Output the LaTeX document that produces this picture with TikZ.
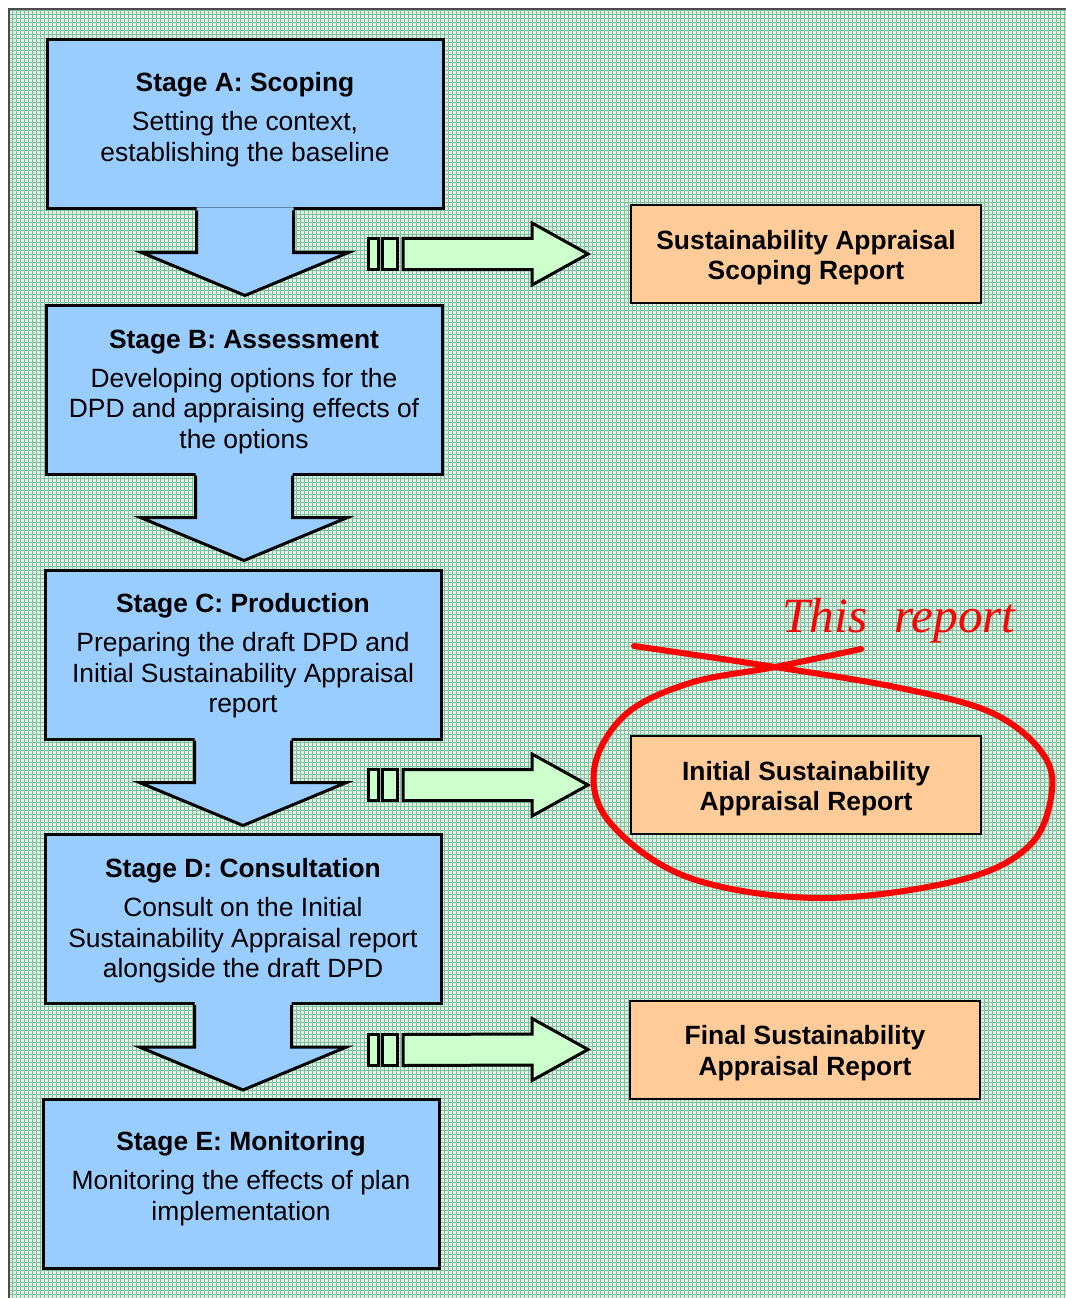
\documentclass[tikz,border=0pt]{standalone}
\usepackage{fontspec}
\setmainfont{Liberation Sans}
\newfontfamily\handfont{Liberation Serif}
\usepackage{xcolor}
\usepackage{tikz}
\usetikzlibrary{calc, patterns}
\definecolor{stageblue}{HTML}{99CCFF}
\definecolor{reportorange}{HTML}{FFCC99}
\definecolor{arrowgreen}{HTML}{CCFFCC}
\definecolor{mintbase}{RGB}{222,240,229}
\definecolor{mintline}{RGB}{128,192,156}
\definecolor{markred}{HTML}{FF0000}

\begin{document}
\begin{tikzpicture}[x=0.75pt, y=-0.75pt,
    stagebox/.style={rectangle, draw=black, line width=2.25pt, fill=stageblue, minimum width=297pt, minimum height=126.75pt, inner sep=0pt},
    downfill/.style={fill=stageblue},
    downline/.style={draw=black, line width=2.25pt, line join=miter},
    report/.style={rectangle, draw=black, line width=1.5pt, fill=reportorange, minimum width=262.5pt, minimum height=73.5pt},
    reporttext/.style={inner sep=0pt, align=center, font=\fontsize{19.8}{22.9}\selectfont\bfseries},
    barbox/.style={draw=black, line width=2.25pt, fill=arrowgreen},
    blockarrow/.style={draw=black, line width=2.25pt, fill=arrowgreen, line join=miter},
    title/.style={inner sep=0pt, font=\fontsize{19.8}{22.9}\selectfont\bfseries},
    desc/.style={inner sep=0pt, align=center, font=\fontsize{19.8}{22.9}\selectfont}
]
\useasboundingbox (0,0) rectangle (1066,1298);

% Background
\fill[mintbase] (9,9) rectangle (1066,1298);
\fill[pattern=grid, pattern color=mintline] (9,9) rectangle (1066,1298);
\draw[black!70, line width=1.5pt] (9,1298) -- (9,9) -- (1066,9);

% Stage A
\node[stagebox] (stageA) at (245,124.5) {};
\path[downfill] ($(stageA.south)+(-48.5,-3)$) -- ++(0,45) -- ++(-55,0) -- ++(103.5,43) -- ++(103.5,-43) -- ++(-55,0) -- ++(0,-45) -- cycle;
\draw[downline] ($(stageA.south)+(-48.5,0)$) -- ++(0,42) -- ++(-55,0) -- ++(103.5,43) -- ++(103.5,-43) -- ++(-55,0) -- ++(0,-42);
\node[title] (titleA) at (245,85) {Stage A: Scoping};
\node[desc] (textA) at (245,139) {Setting the context,\\establishing the baseline};

% Stage B
\node[stagebox] (stageB) at (244,389.5) {};
\path[downfill] ($(stageB.south)+(-48.5,-3)$) -- ++(0,45) -- ++(-55,0) -- ++(103.5,43) -- ++(103.5,-43) -- ++(-55,0) -- ++(0,-45) -- cycle;
\draw[downline] ($(stageB.south)+(-48.5,0)$) -- ++(0,42) -- ++(-55,0) -- ++(103.5,43) -- ++(103.5,-43) -- ++(-55,0) -- ++(0,-42);
\node[title] (titleB) at (244,342) {Stage B: Assessment};
\node[desc] (textB) at (244,411) {Developing options for the\\DPD and appraising effects of\\the options};

% Stage C
\node[stagebox] (stageC) at (243,654.5) {};
\path[downfill] ($(stageC.south)+(-48.5,-3)$) -- ++(0,45) -- ++(-55,0) -- ++(103.5,43) -- ++(103.5,-43) -- ++(-55,0) -- ++(0,-45) -- cycle;
\draw[downline] ($(stageC.south)+(-48.5,0)$) -- ++(0,42) -- ++(-55,0) -- ++(103.5,43) -- ++(103.5,-43) -- ++(-55,0) -- ++(0,-42);
\node[title] (titleC) at (243,606) {Stage C: Production};
\node[desc] (textC) at (243,675.5) {Preparing the draft DPD and\\Initial Sustainability Appraisal\\report};

% Stage D
\node[stagebox] (stageD) at (243,919) {};
\path[downfill] ($(stageD.south)+(-48.5,-3)$) -- ++(0,45) -- ++(-55,0) -- ++(103.5,43) -- ++(103.5,-43) -- ++(-55,0) -- ++(0,-45) -- cycle;
\draw[downline] ($(stageD.south)+(-48.5,0)$) -- ++(0,42) -- ++(-55,0) -- ++(103.5,43) -- ++(103.5,-43) -- ++(-55,0) -- ++(0,-42);
\node[title] (titleD) at (243,871) {Stage D: Consultation};
\node[desc] (textD) at (243,940.5) {Consult on the Initial\\Sustainability Appraisal report\\alongside the draft DPD};

% Stage E
\node[stagebox] (stageE) at (241,1184) {};
\node[title] (titleE) at (241,1144) {Stage E: Monitoring};
\node[desc] (textE) at (241,1198) {Monitoring the effects of plan\\implementation};

% Reports
\node[report] (scoping) at (806,254) {};
\node[reporttext] (scopingText) at (806,257.5) {Sustainability Appraisal\\Scoping Report};
\node[report] (initial) at (806,785) {};
\node[reporttext] (initialText) at (806,788.5) {Initial Sustainability\\Appraisal Report};
\node[report] (final) at (805,1049.5) {};
\node[reporttext] (finalText) at (805,1053) {Final Sustainability\\Appraisal Report};

% Block arrows
\coordinate (outA) at (368,254);
\draw[barbox] ($(outA)+(0,-15.5)$) rectangle ++(10,31);
\draw[barbox] ($(outA)+(14,-15.5)$) rectangle ++(15,31);
\draw[blockarrow] ($(outA)+(35,-15.5)$) -- ($(scoping.west)+(-98,-15.5)$) -- ++(0,-15.5) -- ($(scoping.west)+(-42,0)$) -- ++(-56,31) -- ++(0,-15.5) -- ($(outA)+(35,15.5)$) -- cycle;

\coordinate (outC) at (368,785);
\draw[barbox] ($(outC)+(0,-15.5)$) rectangle ++(10,31);
\draw[barbox] ($(outC)+(14,-15.5)$) rectangle ++(15,31);
\draw[blockarrow] ($(outC)+(35,-15.5)$) -- ($(initial.west)+(-98,-15.5)$) -- ++(0,-15.5) -- ($(initial.west)+(-42,0)$) -- ++(-56,31) -- ++(0,-15.5) -- ($(outC)+(35,15.5)$) -- cycle;

\coordinate (outD) at (368,1050);
\draw[barbox] ($(outD)+(0,-15.5)$) rectangle ++(10,31);
\draw[barbox] ($(outD)+(14,-15.5)$) rectangle ++(15,31);
\draw[blockarrow] ($(outD)+(35,-15.5)$) -- ($(final.west)+(-97,-15.5)$) -- ++(0,-15.5) -- ($(final.west)+(-41,0)$) -- ++(-56,31) -- ++(0,-15.5) -- ($(outD)+(35,15.5)$) -- cycle;

% Hand marking
\node[inner sep=0pt, text=markred, font=\handfont\itshape\fontsize{37}{37}\selectfont] (note) at (899,621) {This\hspace{20pt}report};
\draw[markred, line width=4.5pt, line cap=round] plot[smooth, tension=0.6] coordinates {(634,646) (775,667) (900,688) (990,712) (1040,750) (1052,790) (1030,845) (960,880) (820,898) (690,878) (612,825) (594,770) (625,715) (690,683) (775,667) (861,649)};

\end{tikzpicture}
\end{document}
